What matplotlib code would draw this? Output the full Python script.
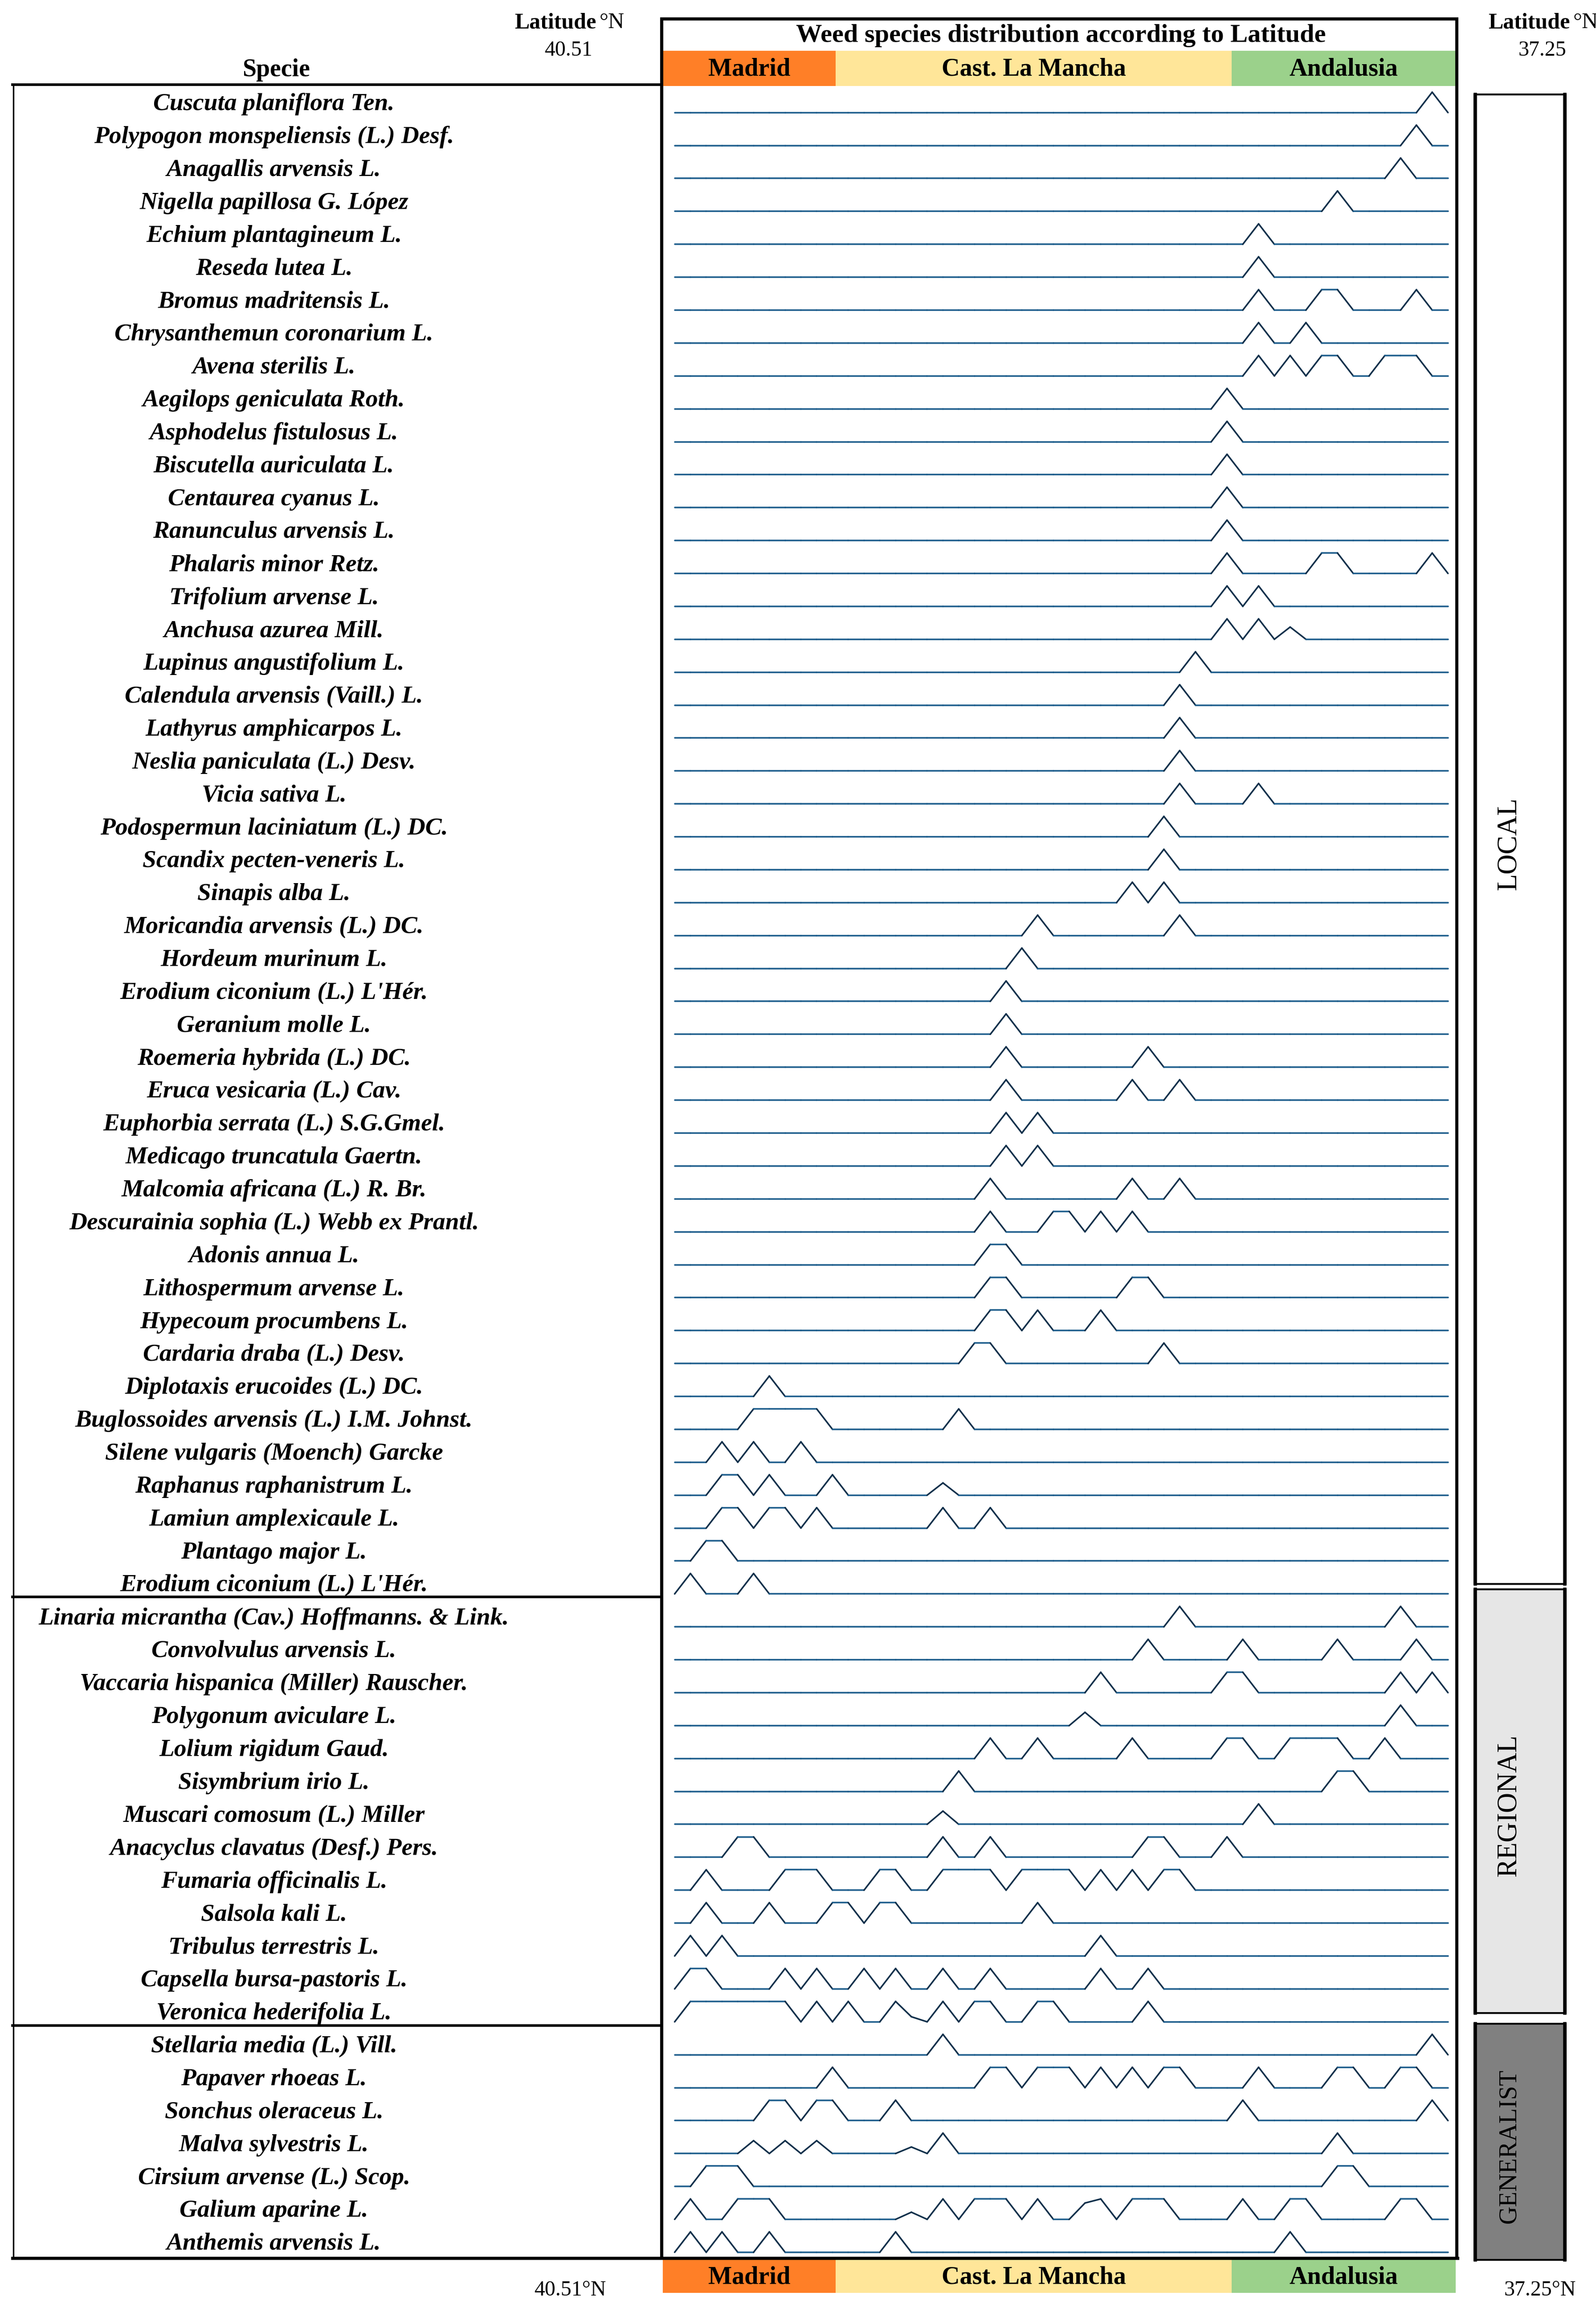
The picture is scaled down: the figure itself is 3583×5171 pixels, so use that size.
import numpy as np
import matplotlib.pyplot as plt
from matplotlib.collections import LineCollection
from matplotlib.patches import Rectangle

plt.rcParams['font.family'] = ['Liberation Serif', 'DejaVu Serif']

W, H, DPI = 3583, 5171, 300

species = [
    "Cuscuta planiflora Ten.", "Polypogon monspeliensis (L.) Desf.", "Anagallis arvensis L.",
    "Nigella papillosa G. López", "Echium plantagineum L.", "Reseda lutea L.",
    "Bromus madritensis L.", "Chrysanthemun coronarium L.", "Avena sterilis L.",
    "Aegilops geniculata Roth.", "Asphodelus fistulosus L.", "Biscutella auriculata L.",
    "Centaurea cyanus L.", "Ranunculus arvensis L.", "Phalaris minor Retz.",
    "Trifolium arvense L.", "Anchusa azurea Mill.", "Lupinus angustifolium L.",
    "Calendula arvensis (Vaill.) L.", "Lathyrus amphicarpos L.", "Neslia paniculata (L.) Desv.",
    "Vicia sativa L.", "Podospermun laciniatum (L.) DC.", "Scandix pecten-veneris L.",
    "Sinapis alba L.", "Moricandia arvensis (L.) DC.", "Hordeum murinum L.",
    "Erodium ciconium (L.) L'Hér.", "Geranium molle L.", "Roemeria hybrida (L.) DC.",
    "Eruca vesicaria (L.) Cav.", "Euphorbia serrata (L.) S.G.Gmel.", "Medicago truncatula Gaertn.",
    "Malcomia africana (L.) R. Br.", "Descurainia sophia (L.) Webb ex Prantl.", "Adonis annua L.",
    "Lithospermum arvense L.", "Hypecoum procumbens L.", "Cardaria draba (L.) Desv.",
    "Diplotaxis erucoides (L.) DC.", "Buglossoides arvensis (L.) I.M. Johnst.",
    "Silene vulgaris (Moench) Garcke", "Raphanus raphanistrum L.", "Lamiun amplexicaule L.",
    "Plantago major L.", "Erodium ciconium (L.) L'Hér.",
    "Linaria micrantha (Cav.) Hoffmanns. & Link.", "Convolvulus arvensis L.",
    "Vaccaria hispanica (Miller) Rauscher.", "Polygonum aviculare L.", "Lolium rigidum Gaud.",
    "Sisymbrium irio L.", "Muscari comosum (L.) Miller", "Anacyclus clavatus (Desf.) Pers.",
    "Fumaria officinalis L.", "Salsola kali L.", "Tribulus terrestris L.",
    "Capsella bursa-pastoris L.", "Veronica hederifolia L.",
    "Stellaria media (L.) Vill.", "Papaver rhoeas L.", "Sonchus oleraceus L.",
    "Malva sylvestris L.", "Cirsium arvense (L.) Scop.", "Galium aparine L.", "Anthemis arvensis L.",
]

# sites (0 = northernmost, 49 = southernmost) where each species was found
sites = [
    [48], [47], [46], [42], [37], [37], [37, 41, 42, 47], [37, 40],
    [37, 39, 41, 42, 45, 46, 47],
    [35], [35], [35], [35], [35], [35, 41, 42, 48], [35, 37], [35, 37, 39],
    [33], [32], [32], [32], [32, 37], [31], [31], [29, 31], [23, 32],
    [22], [21], [21], [21, 30], [21, 29, 32], [21, 23], [21, 23], [20, 29, 32],
    [20, 24, 25, 27, 29], [20, 21], [20, 21, 29, 30], [20, 21, 23, 27], [19, 20, 31],
    [6], [5, 6, 7, 8, 9, 18], [3, 5, 8], [3, 4, 6, 10, 17], [3, 4, 6, 7, 9, 17, 20],
    [2, 3], [1, 5],
    [32, 46], [30, 36, 42, 47], [27, 35, 36, 46, 48], [26, 46],
    [20, 23, 29, 35, 36, 39, 40, 41, 42, 45], [18, 42, 43], [17, 37],
    [4, 5, 17, 20, 30, 31, 35],
    [2, 7, 8, 9, 13, 14, 17, 18, 19, 20, 22, 23, 24, 25, 27, 29, 31, 32],
    [2, 6, 10, 11, 13, 14, 23], [1, 3, 27], [1, 2, 7, 9, 12, 14, 17, 20, 27, 30],
    [1, 2, 3, 4, 5, 6, 7, 9, 11, 14, 15, 17, 19, 20, 23, 24, 30],
    [17, 48], [10, 20, 21, 23, 24, 25, 27, 29, 31, 32, 37, 42, 43, 46, 47],
    [6, 7, 9, 10, 14, 36, 48], [5, 7, 9, 15, 17, 42], [2, 3, 4, 42, 43],
    [1, 4, 5, 6, 15, 17, 19, 20, 21, 23, 26, 27, 29, 30, 31, 36, 39, 40, 46, 47],
    [1, 3, 6, 14, 39],
]

# lower peaks: (species row, site, relative height)
partial = [
    (16, 39, 0.6), (42, 17, 0.6), (49, 26, 0.65), (52, 17, 0.65), (58, 15, 0.25),
    (62, 5, 0.63), (62, 7, 0.63), (62, 9, 0.63), (62, 15, 0.32),
    (64, 15, 0.35), (64, 26, 0.8),
]

n_sites = 50
groups = ["LOCAL", "REGIONAL", "GENERALIST"]
regions = ["Madrid", "Cast. La Mancha", "Andalusia"]
region_colors = ["#FF7F27", "#FFE699", "#9BD18B"]
lat_north = "40.51"
lat_south = "37.25"

blue = "#1d5d8c"
navy = "#10304b"

fig = plt.figure(figsize=(W / DPI, H / DPI), dpi=DPI)
bg = fig.add_axes([0, 0, 1, 1])
bg.set_xlim(0, W)
bg.set_ylim(H, 0)
bg.axis('off')

# panel with the distribution lines
px0, px1, py0, py1 = 1487, 3270, 193, 5068
ax = fig.add_axes([px0 / W, 1 - py1 / H, (px1 - px0) / W, (py1 - py0) / H])
ax.patch.set_alpha(0)
ax.set_xlim((px0 - 1514.6) / 35.43, (px1 - 1514.6) / 35.43)
ax.set_ylim((py1 - 252.7) / 73.88, (py0 - 252.7) / 73.88)
for s in ax.spines.values():
    s.set_visible(False)
ax.set_xticks([])

peak_h = 0.62
x = np.arange(n_sites)
segs, cols = [], []
for k, row in enumerate(sites):
    v = np.zeros(n_sites)
    v[row] = 1
    for r, s, h in partial:
        if r == k:
            v[s] = h
    y = k - peak_h * v
    pts = np.column_stack([x, y])
    for j in range(n_sites - 1):
        segs.append([pts[j], pts[j + 1]])
        cols.append(blue if v[j] == v[j + 1] else navy)
ax.add_collection(LineCollection(segs, colors=cols, linewidths=0.85, capstyle='round', joinstyle='round'))

ax.set_yticks(np.arange(len(species)) - 0.334)
ax.set_yticklabels(species, fontsize=13.3, fontweight='bold', fontstyle='italic', ha='center')
ax.tick_params(axis='y', length=0, pad=(px0 - 615) / DPI * 72)

# header bands
edges = [1488, 1876, 2765, 3268]
for i in range(3):
    for (y0, y1) in [(114, 193), (5072, 5146)]:
        bg.add_patch(Rectangle((edges[i], y0), edges[i + 1] - edges[i], y1 - y0,
                               facecolor=region_colors[i], edgecolor='none'))
        bg.text((edges[i] + edges[i + 1]) / 2, (y0 + y1) / 2 + 2, regions[i], fontsize=13.5,
                fontweight='bold', ha='center', va='center')

bg.text(2382, 80, "Weed species distribution according to Latitude", fontsize=14,
        fontweight='bold', ha='center', va='center')
bg.text(620, 157, "Specie", fontsize=13.4, fontweight='bold', ha='center', va='center')

for cx, lat in [(1276, lat_north), (3462, lat_south)]:
    bg.text(cx + 62, 51, "Latitude", fontsize=12, fontweight='bold', ha='right', va='center')
    bg.text(cx + 70, 51, "°N", fontsize=12, ha='left', va='center')
    bg.text(cx, 113, lat, fontsize=11.5, ha='center', va='center')
bg.text(1280, 5140, lat_north + "°N", fontsize=11.5, ha='center', va='center')
bg.text(3457, 5140, lat_south + "°N", fontsize=11.5, ha='center', va='center')

# main box
bg.add_patch(Rectangle((1485, 42), 3270 - 1485, 5068 - 42, facecolor='none',
                       edgecolor='black', linewidth=1.7))
# left table
bg.plot([28, 1485], [190, 190], color='black', lw=1.4)
bg.plot([30, 30], [190, 5068], color='black', lw=0.8)
bg.plot([28, 3272], [5068, 5068], color='black', lw=1.7)
for yy in [3584, 4546]:
    bg.plot([28, 1485], [yy, yy], color='black', lw=1.4)

# group boxes
gboxes = [(212, 3555, 'white', 15), (3567, 4518, '#E6E6E6', 15), (4542, 5072, '#808080', 13.5)]
for (y0, y1, fc, fs), name in zip(gboxes, groups):
    bg.add_patch(Rectangle((3310, y0), 205, y1 - y0, facecolor=fc, edgecolor='black', linewidth=1.0))
    bg.plot([3312, 3312], [y0, y1], color='black', lw=1.8)
    bg.plot([3513, 3513], [y0, y1], color='black', lw=1.8)
    bg.text(3388, (y0 + y1) / 2 + 10, name, fontsize=fs, rotation=90, ha='center', va='center')

fig.savefig("out.png", dpi=DPI)
